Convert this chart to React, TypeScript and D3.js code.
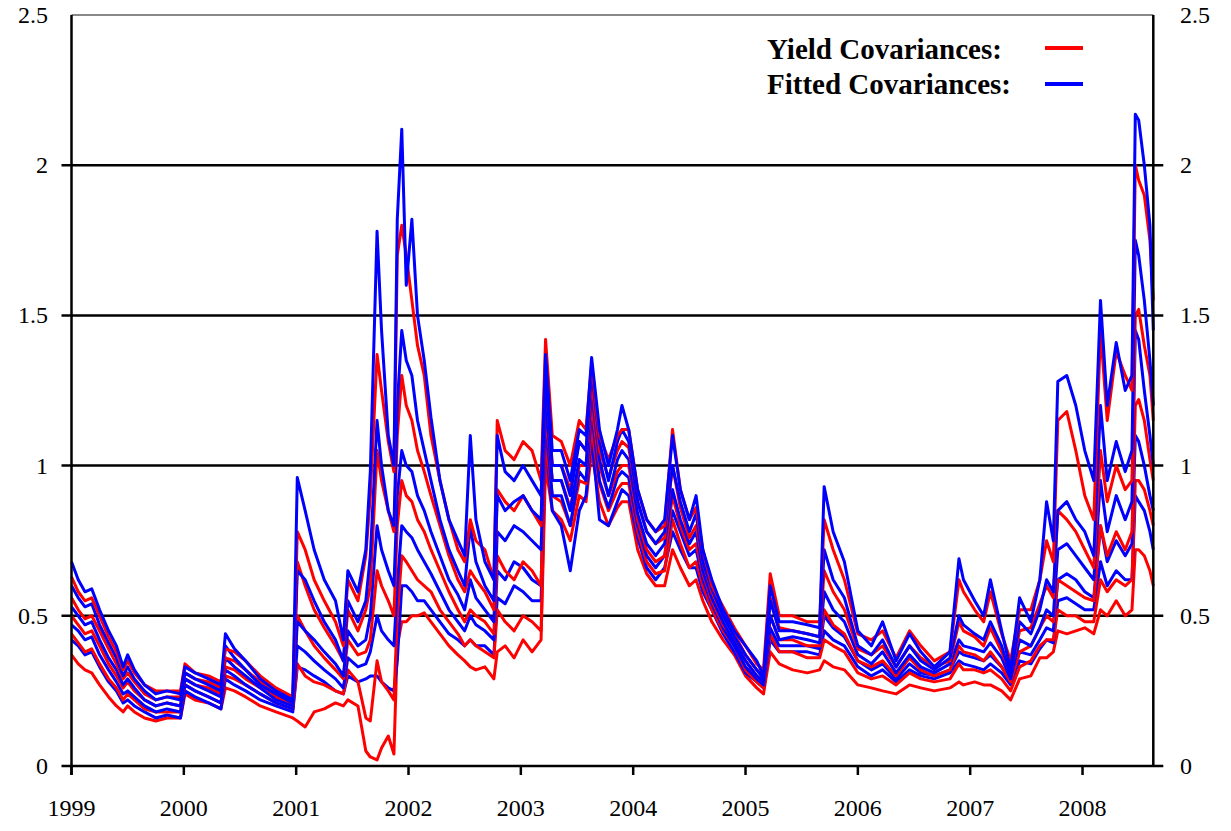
import React from 'react';
import * as d3 from 'd3';

// sample dates (decimal years)
const dates = [
  1999.00, 1999.06, 1999.12, 1999.18, 1999.25, 1999.33, 1999.40, 1999.46, 1999.50, 1999.56, 1999.65, 1999.75, 1999.85, 1999.97,
  2000.01, 2000.10, 2000.22, 2000.33, 2000.37, 2000.45, 2000.55, 2000.68, 2000.82, 2000.97,
  2001.01, 2001.08, 2001.16, 2001.25, 2001.35, 2001.42, 2001.46, 2001.55, 2001.62, 2001.66,
  2001.72, 2001.76, 2001.82, 2001.87, 2001.90, 2001.94, 2001.98, 2002.03, 2002.08, 2002.14,
  2002.20, 2002.28, 2002.36, 2002.44, 2002.50, 2002.55, 2002.60, 2002.68, 2002.76, 2002.79,
  2002.86, 2002.94, 2003.02, 2003.10, 2003.18, 2003.22, 2003.28, 2003.36, 2003.44, 2003.52,
  2003.58, 2003.63, 2003.70, 2003.78, 2003.86, 2003.90, 2003.96, 2004.04, 2004.12, 2004.20,
  2004.28, 2004.35, 2004.42, 2004.50, 2004.56, 2004.62, 2004.70, 2004.80, 2004.90, 2005.00,
  2005.10, 2005.16, 2005.22, 2005.30, 2005.42, 2005.55, 2005.66, 2005.70, 2005.78, 2005.88,
  2006.00, 2006.12, 2006.22, 2006.34, 2006.46, 2006.56, 2006.68, 2006.82, 2006.90, 2006.94,
  2007.04, 2007.12, 2007.18, 2007.28, 2007.36, 2007.44, 2007.54, 2007.62, 2007.68, 2007.74,
  2007.78, 2007.86, 2007.94, 2008.02, 2008.10, 2008.16, 2008.22, 2008.30, 2008.38, 2008.44,
  2008.47, 2008.50, 2008.55, 2008.60, 2008.63,
];

// fitted covariances (blue), highest to lowest
const blue1 = [
  .68, .62, .58, .59, .52, .45, .40, .33, .37, .32, .27, .24, .25, .24,
  .33, .31, .29, .27, .44, .39, .35, .29, .25, .22,
  .96, .85, .72, .62, .55, .42, .65, .58, .72, .98,
  1.78, 1.45, 1.10, 1.00, 1.82, 2.12, 1.60, 1.82, 1.50, 1.35,
  1.16, .95, .82, .75, .70, 1.10, .82, .68, .62, 1.10,
  .98, .95, 1.00, .95, .90, 1.37, 1.05, 1.05, .95, 1.12,
  1.10, 1.36, 1.12, 1.00, 1.12, 1.20, 1.12, .92, .82, .78,
  .82, 1.10, .92, .82, .90, .72, .62, .52, .45, .40,
  .35, .30, .60, .48, .48, .47, .46, .93, .78, .68,
  .45, .40, .48, .35, .44, .38, .33, .38, .69, .62,
  .55, .50, .62, .45, .32, .56, .48, .62, .88, .75,
  1.28, 1.30, 1.20, 1.05, .95, 1.55, 1.20, 1.41, 1.25, 1.30,
  2.17, 2.15, 2.00, 1.80, 1.45,
];
const blue2 = [
  .60, .56, .53, .54, .47, .41, .36, .30, .33, .29, .25, .22, .23, .22,
  .31, .29, .27, .25, .40, .36, .32, .27, .24, .21,
  .65, .62, .55, .48, .42, .35, .55, .48, .55, .70,
  1.15, 1.00, .85, .80, 1.20, 1.45, 1.35, 1.30, 1.15, 1.05,
  .95, .82, .72, .65, .60, .80, .68, .60, .55, .90,
  .85, .88, .90, .85, .82, 1.30, 1.00, 1.00, .90, 1.08,
  1.05, 1.32, 1.08, .95, 1.08, 1.12, 1.08, .88, .78, .74,
  .78, 1.00, .88, .78, .84, .68, .59, .50, .43, .37,
  .32, .29, .55, .45, .45, .44, .43, .72, .62, .56,
  .40, .37, .42, .33, .40, .35, .32, .36, .50, .47,
  .44, .42, .48, .40, .30, .48, .44, .52, .62, .58,
  .85, .88, .82, .78, .70, 1.20, .95, 1.08, .98, 1.05,
  1.75, 1.70, 1.55, 1.35, 1.20,
];
const blue3 = [
  .53, .50, .47, .48, .42, .36, .32, .27, .29, .26, .22, .20, .21, .20,
  .29, .27, .25, .23, .36, .33, .30, .26, .22, .20,
  .48, .45, .42, .38, .34, .30, .45, .40, .42, .50,
  .80, .72, .65, .60, .90, 1.05, 1.00, .98, .90, .85,
  .78, .70, .62, .57, .52, .62, .56, .52, .48, .78,
  .75, .80, .78, .75, .72, 1.22, .95, .95, .85, 1.02,
  1.00, 1.25, 1.02, .90, 1.02, 1.05, 1.02, .84, .74, .70,
  .74, .92, .82, .74, .78, .65, .56, .48, .41, .35,
  .30, .28, .50, .42, .43, .42, .41, .58, .52, .48,
  .37, .34, .38, .31, .37, .33, .31, .34, .42, .40,
  .39, .38, .41, .36, .29, .42, .40, .46, .52, .50,
  .72, .74, .70, .66, .62, .95, .78, .90, .82, .88,
  1.45, 1.42, 1.25, 1.10, 1.00,
];
const blue4 = [
  .47, .45, .42, .43, .37, .32, .28, .24, .25, .23, .20, .18, .19, .18,
  .27, .25, .23, .21, .32, .30, .27, .24, .21, .19,
  .40, .38, .35, .32, .29, .26, .36, .33, .34, .38,
  .50, .45, .42, .40, .60, .80, .78, .76, .72, .68,
  .64, .58, .52, .48, .45, .50, .47, .45, .42, .65,
  .62, .68, .66, .62, .60, 1.15, .90, .90, .80, .98,
  .95, 1.18, .95, .86, .96, .98, .96, .80, .70, .66,
  .70, .85, .78, .70, .72, .62, .54, .46, .40, .33,
  .29, .27, .46, .40, .40, .40, .39, .50, .46, .43,
  .35, .32, .34, .29, .34, .31, .30, .32, .38, .37,
  .36, .35, .37, .33, .28, .38, .37, .42, .46, .45,
  .62, .64, .62, .58, .56, .80, .68, .75, .70, .74,
  1.10, 1.08, 1.00, .90, .85,
];
const blue5 = [
  .42, .40, .37, .38, .33, .28, .25, .21, .22, .20, .18, .16, .17, .16,
  .25, .23, .21, .19, .29, .27, .25, .22, .20, .18,
  .33, .32, .30, .28, .25, .24, .30, .28, .29, .30,
  .30, .28, .26, .25, .35, .60, .60, .58, .55, .55,
  .52, .48, .44, .42, .40, .42, .40, .40, .37, .56,
  .54, .60, .58, .55, .55, 1.08, .85, .80, .65, .85,
  .90, 1.10, .82, .80, .88, .92, .90, .76, .66, .62,
  .66, .78, .72, .66, .66, .58, .52, .44, .38, .31,
  .28, .26, .42, .38, .38, .38, .37, .45, .42, .40,
  .33, .30, .32, .28, .32, .30, .29, .31, .35, .34,
  .33, .32, .34, .31, .27, .35, .34, .39, .42, .41,
  .55, .56, .54, .52, .52, .68, .60, .65, .62, .62,
  .90, .88, .85, .78, .72,
];

// yield covariances (red), highest to lowest
const red1 = [
  .63, .58, .55, .56, .50, .43, .38, .32, .35, .31, .27, .25, .25, .25,
  .34, .31, .30, .28, .39, .38, .35, .30, .26, .23,
  .78, .72, .62, .55, .48, .40, .62, .55, .70, .90,
  1.37, 1.25, 1.08, .98, 1.70, 1.80, 1.70, 1.55, 1.40, 1.30,
  1.10, .95, .82, .72, .68, .82, .75, .72, .62, 1.15,
  1.05, 1.02, 1.08, 1.05, .95, 1.42, 1.10, 1.08, 1.00, 1.15,
  1.12, 1.34, 1.10, 1.02, 1.10, 1.12, 1.12, .92, .82, .78,
  .80, 1.12, .92, .82, .86, .72, .60, .53, .46, .40,
  .34, .32, .64, .50, .50, .48, .48, .82, .72, .62,
  .44, .42, .45, .36, .45, .40, .35, .38, .62, .58,
  .52, .48, .58, .44, .35, .52, .52, .62, .75, .68,
  1.15, 1.18, 1.05, .90, .82, 1.45, 1.15, 1.38, 1.30, 1.25,
  2.00, 1.95, 1.90, 1.75, 1.55,
];
const red2 = [
  .56, .52, .49, .50, .45, .39, .34, .29, .31, .28, .24, .22, .23, .23,
  .31, .29, .28, .26, .36, .35, .32, .28, .24, .21,
  .68, .60, .52, .46, .40, .35, .52, .45, .52, .60,
  1.05, .95, .85, .78, 1.10, 1.30, 1.20, 1.15, 1.05, .98,
  .90, .80, .70, .62, .58, .65, .62, .58, .52, .92,
  .88, .85, .90, .85, .80, 1.30, 1.00, 1.00, .92, 1.08,
  1.05, 1.28, 1.05, .96, 1.05, 1.08, 1.06, .88, .78, .74,
  .76, 1.00, .86, .76, .80, .68, .58, .50, .44, .37,
  .32, .30, .56, .46, .45, .44, .43, .65, .58, .52,
  .39, .37, .40, .33, .40, .36, .33, .35, .48, .45,
  .43, .40, .46, .38, .31, .45, .46, .54, .60, .56,
  .85, .82, .78, .72, .66, 1.05, .88, 1.00, .92, .95,
  1.50, 1.52, 1.40, 1.30, 1.15,
];
const red3 = [
  .50, .47, .44, .45, .40, .34, .30, .26, .28, .25, .22, .20, .21, .20,
  .29, .27, .26, .24, .33, .32, .29, .26, .23, .20,
  .50, .45, .40, .36, .32, .29, .42, .37, .38, .42,
  .65, .60, .55, .50, .80, .95, .90, .88, .82, .78,
  .72, .65, .58, .52, .48, .52, .50, .48, .44, .70,
  .65, .62, .68, .65, .60, 1.18, .95, .95, .86, 1.00,
  1.00, 1.20, 1.00, .90, .98, 1.00, 1.00, .82, .72, .68,
  .70, .90, .80, .72, .74, .64, .55, .47, .42, .35,
  .30, .28, .50, .42, .42, .40, .40, .52, .47, .44,
  .35, .33, .35, .30, .36, .32, .30, .32, .40, .38,
  .37, .35, .38, .33, .28, .38, .40, .46, .50, .48,
  .62, .60, .58, .56, .55, .80, .70, .78, .72, .78,
  1.20, 1.22, 1.15, 1.02, .95,
];
const red4 = [
  .44, .41, .38, .39, .34, .29, .26, .22, .24, .22, .19, .18, .18, .18,
  .27, .25, .23, .21, .30, .29, .27, .24, .21, .19,
  .34, .30, .28, .27, .25, .24, .32, .28, .16, .15,
  .35, .28, .25, .22, .50, .70, .68, .65, .62, .60,
  .58, .52, .48, .44, .40, .42, .40, .38, .36, .52,
  .48, .45, .50, .48, .45, 1.08, .90, .88, .80, .95,
  .94, 1.12, .94, .85, .92, .94, .94, .78, .68, .64,
  .65, .82, .74, .66, .68, .60, .52, .45, .40, .32,
  .28, .26, .44, .38, .38, .36, .36, .42, .40, .38,
  .31, .29, .30, .27, .31, .29, .28, .29, .34, .32,
  .32, .31, .32, .29, .25, .33, .35, .40, .42, .42,
  .52, .50, .50, .48, .48, .62, .58, .62, .60, .62,
  .95, .95, .92, .85, .80,
];
const red5 = [
  .37, .34, .32, .31, .27, .23, .20, .18, .20, .18, .16, .15, .16, .16,
  .24, .22, .21, .19, .26, .25, .23, .20, .18, .16,
  .15, .13, .18, .19, .21, .20, .22, .20, .05, .03,
  .02, .06, .10, .04, .40, .48, .48, .50, .50, .51,
  .48, .44, .40, .37, .35, .33, .32, .33, .29, .38,
  .40, .36, .42, .38, .42, 1.00, .85, .82, .75, .90,
  .88, 1.05, .88, .80, .86, .88, .88, .72, .64, .60,
  .60, .72, .66, .60, .62, .55, .48, .42, .37, .30,
  .26, .24, .38, .34, .32, .31, .32, .35, .33, .32,
  .27, .26, .25, .24, .27, .26, .25, .26, .28, .27,
  .28, .27, .27, .25, .22, .29, .30, .36, .36, .38,
  .45, .44, .45, .46, .44, .52, .50, .55, .50, .52,
  .72, .72, .70, .65, .60,
];

const yearTicks = [1999, 2000, 2001, 2002, 2003, 2004, 2005, 2006, 2007, 2008];
const valueTicks = [0, 0.5, 1, 1.5, 2, 2.5];
const legendItems = [
  { label: 'Yield Covariances:', color: '#ff0000' },
  { label: 'Fitted Covariances:', color: '#0000ff' },
];

const RED = '#ff0000';
const BLUE = '#0000ff';
const FONT = '"Liberation Serif", "Times New Roman", serif';

const App: React.FC = () => {
  const width = 1231;
  const height = 831;
  const left = 71.5;
  const right = 1153.3;
  const top = 15;
  const bottom = 766;

  const x = d3.scaleLinear().domain([1999, 2008.63]).range([left, right]);
  const y = d3.scaleLinear().domain([0, 2.5]).range([bottom, top]);

  const line = d3.line<number>()
    .x((_, i) => x(dates[i]))
    .y(d => y(d));

  const reds = [red5, red4, red3, red2, red1];
  const blues = [blue5, blue4, blue3, blue2, blue1];

  return (
    <svg width={width} height={height} style={{ position: 'absolute', left: 0, top: 0, background: '#fff' }}>
      {/* gridlines */}
      {valueTicks.filter(v => v > 0 && v < 2.5).map(v => (
        <line key={v} x1={left - 10} x2={right + 10} y1={y(v)} y2={y(v)} stroke="#000" strokeWidth={2.5} />
      ))}
      <line x1={left} x2={right} y1={y(2.5)} y2={y(2.5)} stroke="#888" strokeWidth={2} />

      {/* series: red under blue, interleaved */}
      {reds.map((s, i) => (
        <g key={'g' + i}>
          <path d={line(s) || ''} fill="none" stroke={RED} strokeWidth={3} strokeLinejoin="round" />
          <path d={line(blues[i]) || ''} fill="none" stroke={BLUE} strokeWidth={3} strokeLinejoin="round" />
        </g>
      ))}

      {/* axes */}
      <line x1={left - 10} x2={right + 10} y1={bottom} y2={bottom} stroke="#000" strokeWidth={2.5} />
      <line x1={left} x2={left} y1={top} y2={bottom + 9} stroke="#000" strokeWidth={2.5} />
      <line x1={right} x2={right} y1={top} y2={bottom} stroke="#000" strokeWidth={2.5} />
      {yearTicks.map(t => (
        <g key={t}>
          <line x1={x(t)} x2={x(t)} y1={bottom} y2={bottom + 9} stroke="#000" strokeWidth={2.5} />
          <text x={x(t)} y={bottom + 50} textAnchor="middle" fontFamily={FONT} fontSize={24}>{t}</text>
        </g>
      ))}
      {valueTicks.map(v => (
        <g key={v}>
          <text x={48} y={y(v) + 8} textAnchor="end" fontFamily={FONT} fontSize={24}>{d3.format('~g')(v)}</text>
          <text x={1180} y={y(v) + 8} textAnchor="start" fontFamily={FONT} fontSize={24}>{d3.format('~g')(v)}</text>
        </g>
      ))}

      {/* legend */}
      {legendItems.map((d, i) => (
        <g key={d.label}>
          <text x={767} y={59 + i * 35} fontFamily={FONT} fontSize={29} fontWeight="bold">{d.label}</text>
          <line x1={1045} x2={1083} y1={48 + i * 36} y2={48 + i * 36} stroke={d.color} strokeWidth={4} />
        </g>
      ))}
    </svg>
  );
};

export default App;
